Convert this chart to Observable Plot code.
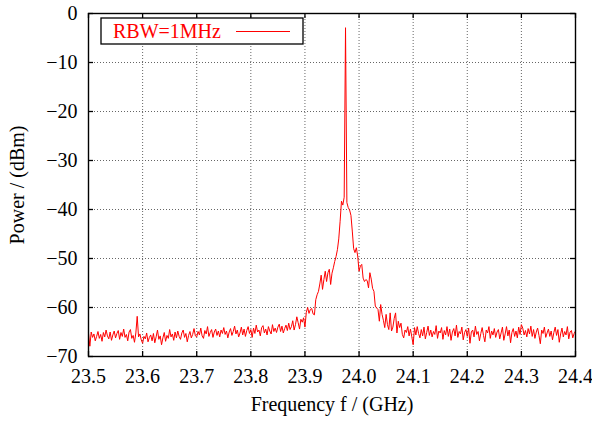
<!DOCTYPE html>
<html>
<head>
<meta charset="utf-8">
<script src="https://cdn.jsdelivr.net/npm/d3@7"></script>
<script src="https://cdn.jsdelivr.net/npm/@observablehq/plot@0.6"></script>
<style>
  html, body { margin: 0; padding: 0; background: #fff; }
  #chart { width: 592px; height: 424px; }
</style>
</head>
<body>
<div id="chart"></div>
<script>
// Sweep: 361 points, 23.5 GHz to 24.4 GHz
const freqStart = 23.5;
const freqStep = 0.0025;
const power = [
  -65.2,-67.9,-65.0,-66.1,-65.4,-66.8,-65.9,-64.9,-66.3,-65.5,-66.9,-65.1,-66.0,-64.6,-65.8,-66.4,-65.0,-66.7,-65.6,-64.8,
  -66.2,-65.3,-64.7,-66.5,-65.1,-65.9,-64.4,-66.1,-65.5,-66.8,-65.0,-64.5,-66.3,-65.7,-67.1,-65.2,-61.8,-66.0,-65.4,-66.6,
  -67.3,-65.9,-66.4,-65.2,-67.0,-66.1,-65.6,-66.8,-65.3,-67.2,-66.0,-64.6,-66.5,-65.8,-67.6,-66.2,-65.1,-66.9,-65.7,-66.3,
  -64.5,-66.0,-65.4,-66.7,-65.0,-66.2,-64.8,-65.9,-66.5,-65.2,-64.6,-66.1,-65.3,-67.0,-65.7,-64.9,-66.2,-65.5,-64.3,-65.8,
  -66.0,-64.9,-65.6,-64.2,-65.8,-66.3,-64.7,-65.4,-63.9,-65.9,-65.1,-64.5,-66.1,-65.0,-64.4,-65.7,-64.8,-66.0,-64.6,-65.3,
  -64.1,-65.5,-64.8,-66.2,-65.0,-64.3,-65.7,-64.9,-63.8,-65.4,-64.6,-66.0,-65.2,-64.0,-65.6,-64.4,-65.9,-64.7,-63.9,-65.3,
  -64.5,-66.1,-64.2,-65.3,-63.6,-65.0,-64.6,-65.8,-64.1,-63.7,-65.2,-64.4,-65.6,-63.9,-64.8,-65.4,-63.5,-64.9,-64.2,-65.1,
  -64.0,-63.4,-64.9,-63.8,-65.2,-64.3,-63.6,-64.7,-63.2,-64.5,-63.9,-62.7,-64.6,-63.5,-61.9,-63.1,-64.4,-62.4,-63.0,-62.1,
  -64.0,-61.0,-60.0,-61.2,-60.4,-60.2,-61.3,-61.5,-58.4,-57.4,-56.7,-55.2,-53.4,-56.3,-54.3,-52.6,-54.7,-52.9,-52.2,-55.3,
  -53.0,-51.9,-50.6,-49.6,-48.2,-46.0,-42.4,-38.3,-39.1,-37.5,-2.9,-38.6,-39.6,-40.1,-41.2,-44.4,-48.0,-48.8,-47.8,-49.5,
  -52.6,-51.5,-51.2,-54.0,-54.7,-54.3,-54.5,-56.0,-52.9,-54.2,-56.1,-56.7,-59.7,-60.1,-60.4,-62.8,-59.4,-61.4,-62.6,-64.1,
  -61.4,-63.5,-64.5,-61.1,-64.8,-64.0,-62.2,-61.1,-65.2,-62.8,-64.1,-63.2,-65.5,-66.2,-64.6,-65.1,-63.9,-65.8,-64.4,-66.0,
  -67.6,-64.1,-65.6,-63.9,-65.3,-66.2,-64.5,-65.8,-64.0,-66.4,-65.1,-63.8,-65.7,-64.6,-66.0,-64.9,-65.5,-63.7,-66.3,-64.8,
  -65.2,-64.1,-66.5,-64.7,-65.6,-63.9,-65.9,-64.4,-66.7,-65.0,-64.3,-65.8,-63.6,-66.1,-64.9,-65.4,-64.0,-66.6,-65.1,-64.5,
  -65.9,-64.2,-67.3,-65.0,-64.6,-66.0,-63.8,-65.5,-64.9,-66.8,-65.3,-64.1,-65.7,-67.0,-64.6,-65.2,-63.9,-66.3,-64.8,-65.6,
  -64.3,-66.1,-65.0,-64.5,-66.4,-65.2,-64.0,-66.7,-65.4,-63.9,-65.8,-64.6,-67.2,-65.1,-64.3,-65.9,-64.8,-66.2,-64.0,-65.5,
  -63.5,-64.2,-65.6,-64.7,-66.0,-64.3,-65.4,-63.8,-65.9,-64.5,-66.3,-65.0,-64.2,-65.7,-67.4,-64.6,-65.3,-64.0,-66.1,-65.2,
  -64.4,-65.9,-64.8,-66.6,-65.1,-64.0,-65.7,-64.5,-67.1,-65.4,-64.2,-66.0,-64.9,-65.6,-63.9,-66.4,-65.0,-64.7,-66.2,-65.3,-64.8
];
const xTicks = [23.5, 23.6, 23.7, 23.8, 23.9, 24.0, 24.1, 24.2, 24.3, 24.4];
const yTicks = [0, -10, -20, -30, -40, -50, -60, -70];
const xLabel = "Frequency f / (GHz)";
const yLabel = "Power / (dBm)";
const seriesName = "RBW=1MHz";

const data = power.map((p, i) => ({f: +(freqStart + i * freqStep).toFixed(4), p}));

const W = 592, H = 424;
const mL = 88, mR = 17, mT = 13, mB = 68;
const innerH = H - mT - mB;
const innerW = W - mL - mR;
const tick = 5;
const font = "'Liberation Serif', 'Times New Roman', serif";
const gridStyle = {stroke: "#666", strokeOpacity: 1, strokeWidth: 1, strokeDasharray: "1,2"};

const chart = Plot.plot({
  width: W, height: H,
  marginLeft: mL, marginRight: mR, marginTop: mT, marginBottom: mB,
  style: {fontFamily: font, fontSize: "20px", color: "black", background: "white", overflow: "visible"},
  x: {domain: [23.5, 24.4], label: null},
  y: {domain: [-70, 0], label: null},
  marks: [
    Plot.gridX(xTicks, gridStyle),
    Plot.gridY(yTicks, gridStyle),
    Plot.line(data, {x: "f", y: "p", stroke: "#ff0000", strokeWidth: 1}),
    Plot.frame({stroke: "black", strokeWidth: 1.4}),
    Plot.tickX(xTicks, {x: d => d, insetTop: innerH - tick, stroke: "black", strokeWidth: 1.3}),
    Plot.tickX(xTicks, {x: d => d, insetBottom: innerH - tick, stroke: "black", strokeWidth: 1.3}),
    Plot.tickY(yTicks, {y: d => d, insetRight: innerW - tick, stroke: "black", strokeWidth: 1.3}),
    Plot.tickY(yTicks, {y: d => d, insetLeft: innerW - tick, stroke: "black", strokeWidth: 1.3}),
    Plot.axisX(xTicks, {tickSize: 0, tickPadding: 12, tickFormat: d3.format(".1f"), fontSize: 20, label: null}),
    Plot.axisY(yTicks, {tickSize: 0, tickPadding: 11, fontSize: 20, label: null}),
    Plot.text([xLabel], {frameAnchor: "bottom", dy: 54, textAnchor: "middle", lineAnchor: "bottom", fontSize: 20, fill: "black"}),
    Plot.text([yLabel], {frameAnchor: "left", dx: -65, rotate: -90, textAnchor: "middle", lineAnchor: "bottom", fontSize: 20, fill: "black"})
  ]
});

// Legend box (gnuplot style, top-left inside the frame)
const svg = d3.select(chart);
const lg = svg.append("g").attr("font-family", font).attr("font-size", 20).attr("text-anchor", "start");
lg.append("rect").attr("x", 101).attr("y", 18).attr("width", 202).attr("height", 26)
  .attr("fill", "white").attr("stroke", "black").attr("stroke-width", 1.3);
lg.append("text").attr("x", 113).attr("y", 38).attr("text-anchor", "start").attr("fill", "#ff0000").text(seriesName);
lg.append("line").attr("x1", 236).attr("x2", 290).attr("y1", 31.5).attr("y2", 31.5)
  .attr("stroke", "#ff0000").attr("stroke-width", 1);

document.getElementById("chart").appendChild(chart);
</script>
</body>
</html>
